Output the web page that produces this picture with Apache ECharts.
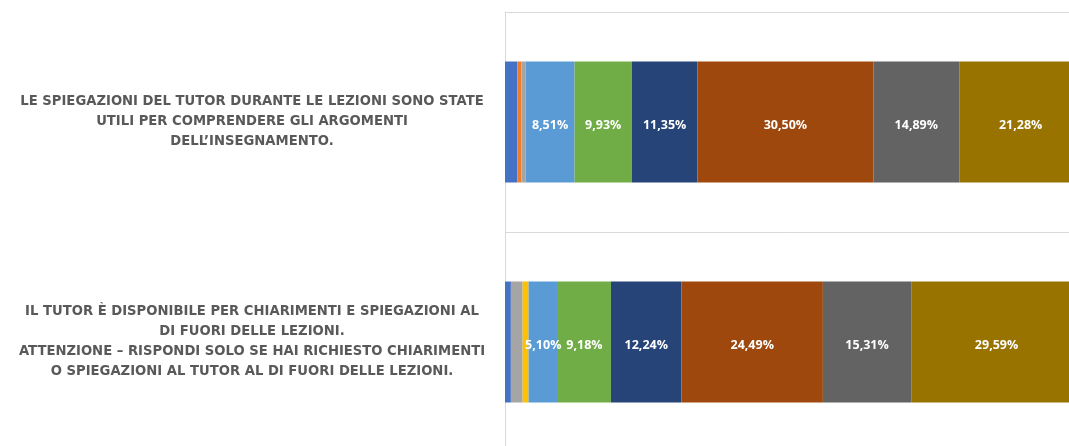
<!DOCTYPE html>
<html>
<head>
<meta charset="utf-8">
<script src="https://cdn.jsdelivr.net/npm/echarts@6/dist/echarts.min.js"></script>
<style>
html,body{margin:0;padding:0;background:#fff;}
#chart{width:1069px;height:446px;}
</style>
</head>
<body>
<div id="chart"></div>
<script>
const categories = [
  "LE SPIEGAZIONI DEL TUTOR DURANTE LE LEZIONI SONO STATE\nUTILI PER COMPRENDERE GLI ARGOMENTI\nDELL\u2019INSEGNAMENTO.",
  "IL TUTOR \u00C8 DISPONIBILE PER CHIARIMENTI E SPIEGAZIONI AL\nDI FUORI DELLE LEZIONI.\nATTENZIONE \u2013 RISPONDI SOLO SE HAI RICHIESTO CHIARIMENTI\nO SPIEGAZIONI AL TUTOR AL DI FUORI DELLE LEZIONI."
];
const seriesNames = ["1","2","3","4","5","6","7","8","9","10"];
const s1  = [2.13, 1.02];
const s2  = [0.71, 0];
const s3  = [0.71, 2.04];
const s4  = [0, 1.02];
const s5  = [8.51, 5.10];
const s6  = [9.93, 9.18];
const s7  = [11.35, 12.24];
const s8  = [30.50, 24.49];
const s9  = [14.89, 15.31];
const s10 = [21.28, 29.59];
const seriesValues = [s1,s2,s3,s4,s5,s6,s7,s8,s9,s10];
const colors = ["#4472C4","#ED7D31","#A5A5A5","#FFC000","#5B9BD5","#70AD47","#264478","#9E480E","#636363","#997300"];

const chart = echarts.init(document.getElementById('chart'), null, {renderer:'canvas'});
const series = seriesValues.map((vals, i) => ({
  name: seriesNames[i],
  type: 'bar',
  stack: 'total',
  barWidth: '55%',
  data: vals,
  itemStyle: { color: colors[i] },
  label: {
    show: true,
    position: 'inside',
    offset: [0, 3],
    color: '#ffffff',
    fontFamily: 'Open Sans',
    fontWeight: 'bold',
    fontSize: 12.5,
    formatter: p => p.value >= 3 ? p.value.toFixed(2).replace('.', ',') + '%' : ''
  }
}));

chart.setOption({
  animation: false,
  backgroundColor: '#ffffff',
  grid: { left: 505, top: 12, width: 577, height: 440, containLabel: false, outerBoundsMode: 'none' },
  xAxis: {
    type: 'value', min: 0, max: 100, show: false
  },
  yAxis: {
    type: 'category',
    inverse: true,
    data: categories,
    axisLine: { show: true, lineStyle: { color: '#d9d9d9', width: 1 } },
    axisTick: { show: false },
    splitLine: { show: true, lineStyle: { color: '#d9d9d9', width: 1 } },
    axisLabel: {
      align: 'center',
      margin: 253,
      color: '#595959',
      fontFamily: 'DejaVu Sans',
      fontWeight: 'bold',
      fontSize: 13.2,
      lineHeight: 20,
      padding: [12, 0, 0, 0]
    }
  },
  series: series
});
</script>
</body>
</html>
